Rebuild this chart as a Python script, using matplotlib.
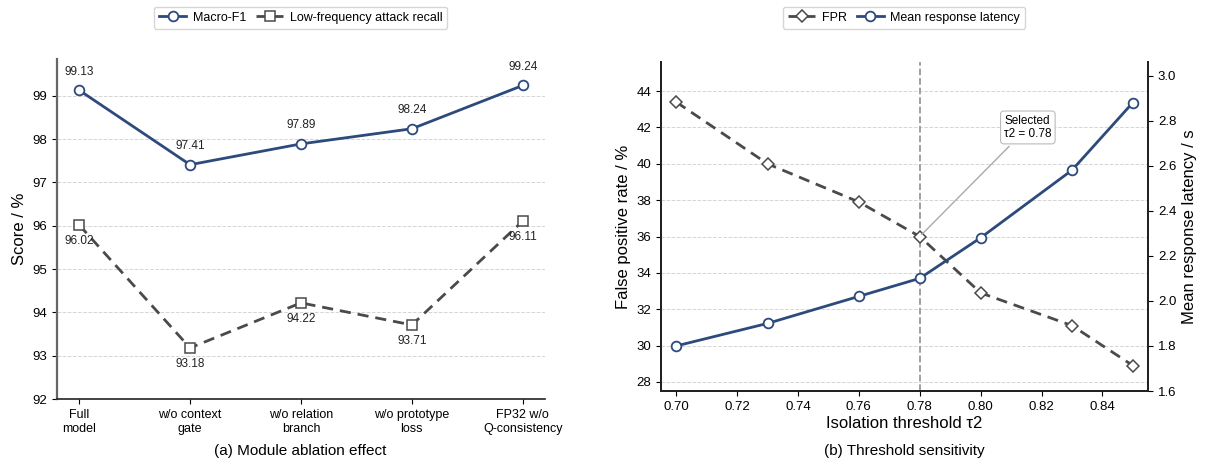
"""Ablation and threshold sensitivity panels."""

import matplotlib
matplotlib.use("Agg")
import matplotlib.pyplot as plt

plt.rcParams["font.family"] = ["Liberation Sans", "DejaVu Sans"]

# (a) module ablation
modules = ["Full\nmodel", "w/o context\ngate", "w/o relation\nbranch",
           "w/o prototype\nloss", "FP32 w/o\nQ-consistency"]
macro_f1 = [99.13, 97.41, 97.89, 98.24, 99.24]
low_freq_recall = [96.02, 93.18, 94.22, 93.71, 96.11]

# (b) threshold sensitivity
thresholds = [0.70, 0.73, 0.76, 0.78, 0.80, 0.83, 0.85]
fpr = [43.4, 40.0, 37.9, 36.0, 32.9, 31.1, 28.9]
latency = [1.80, 1.90, 2.02, 2.10, 2.28, 2.58, 2.88]
selected = 0.78

NAVY = "#2c4a7c"
GRAY = "#4a4a4a"

fig = plt.figure(figsize=(12.07, 4.68), dpi=100)
ax1 = fig.add_axes([0.0472, 0.1474, 0.4043, 0.7265])
ax2 = fig.add_axes([0.5476, 0.1645, 0.4036, 0.7030])

# ---- panel a ----
xs = list(range(len(modules)))
l1, = ax1.plot(xs, macro_f1, color=NAVY, lw=2, marker="o", ms=7,
               mfc="white", mec=NAVY, mew=1.3, label="Macro-F1")
l2, = ax1.plot(xs, low_freq_recall, color=GRAY, lw=2, ls=(0, (4, 2.5)),
               marker="s", ms=7, mfc="white", mec=GRAY, mew=1.1,
               label="Low-frequency attack recall")
for x, v in zip(xs, macro_f1):
    ax1.annotate(f"{v:.2f}", (x, v), xytext=(0, 9), textcoords="offset points",
                 ha="center", va="bottom", fontsize=8.5, color="#222222")
for x, v in zip(xs, low_freq_recall):
    ax1.annotate(f"{v:.2f}", (x, v), xytext=(0, -7), textcoords="offset points",
                 ha="center", va="top", fontsize=8.5, color="#222222")

ax1.set_xlim(-0.2, 4.2)
ax1.set_ylim(92, 99.85)
ax1.set_xticks(xs)
ax1.set_xticklabels(modules, fontsize=9)
ax1.set_yticks(range(92, 100))
ax1.tick_params(axis="y", labelsize=9.5)
ax1.set_ylabel("Score / %", fontsize=12)
ax1.grid(axis="y", ls="--", color="#d5d5d5", lw=0.7)
ax1.set_axisbelow(True)
for s in ["top", "right"]:
    ax1.spines[s].set_visible(False)
ax1.spines["left"].set_color("#666666")
ax1.spines["left"].set_linewidth(1.6)
ax1.spines["bottom"].set_color("#222222")
ax1.spines["bottom"].set_linewidth(1.2)
fig.legend(handles=[l1, l2], loc="center", bbox_to_anchor=(0.249, 0.962),
           ncol=2, fontsize=9, frameon=True, handlelength=2.2,
           columnspacing=0.8, handletextpad=0.5, edgecolor="#cccccc")
fig.text(0.249, 0.027, "(a) Module ablation effect", ha="center", fontsize=11)

# ---- panel b ----
ax3 = ax2.twinx()
l3, = ax2.plot(thresholds, fpr, color=GRAY, lw=2, ls=(0, (4, 2.5)), marker="D",
               ms=6.5, mfc="white", mec=GRAY, mew=1.1, label="FPR")
l4, = ax3.plot(thresholds, latency, color=NAVY, lw=2, marker="o", ms=7,
               mfc="white", mec=NAVY, mew=1.3, label="Mean response latency")
ax2.axvline(selected, color="#999999", ls="--", lw=1.3, zorder=1)
sel_fpr = fpr[thresholds.index(selected)]
ax2.annotate("Selected\nτ2 = 0.78", xy=(selected, sel_fpr), xytext=(0.8155, 42.0),
             ha="center", va="center", multialignment="left", fontsize=8.5,
             bbox=dict(boxstyle="round,pad=0.3", fc="white", ec="#bbbbbb", lw=0.8),
             arrowprops=dict(arrowstyle="-", color="#aaaaaa", lw=1.0))

ax2.set_xlim(0.695, 0.855)
ax2.set_ylim(27.5, 45.6)
ax3.set_ylim(1.6, 3.06)
ax2.set_xticks([0.70, 0.72, 0.74, 0.76, 0.78, 0.80, 0.82, 0.84])
ax2.set_yticks(range(28, 45, 2))
ax3.set_yticks([1.6, 1.8, 2.0, 2.2, 2.4, 2.6, 2.8, 3.0])
ax2.tick_params(labelsize=9.5)
ax3.tick_params(labelsize=9.5)
ax2.set_xlabel("Isolation threshold τ2", fontsize=12, labelpad=2)
ax2.set_ylabel("False positive rate / %", fontsize=12)
ax3.set_ylabel("Mean response latency / s", fontsize=12)
ax2.grid(axis="y", ls="--", color="#d5d5d5", lw=0.7)
ax2.set_axisbelow(True)
ax2.spines["top"].set_visible(False)
ax3.spines["top"].set_visible(False)
for a in (ax2, ax3):
    for s in ["left", "right", "bottom"]:
        a.spines[s].set_color("#222222")
        a.spines[s].set_linewidth(1.4)
fig.legend(handles=[l3, l4], loc="center", bbox_to_anchor=(0.749, 0.962),
           ncol=2, fontsize=9, frameon=True, handlelength=2.2,
           columnspacing=0.8, handletextpad=0.5, edgecolor="#cccccc")
fig.text(0.749, 0.027, "(b) Threshold sensitivity", ha="center", fontsize=11)

fig.savefig("out.png", dpi=100)
